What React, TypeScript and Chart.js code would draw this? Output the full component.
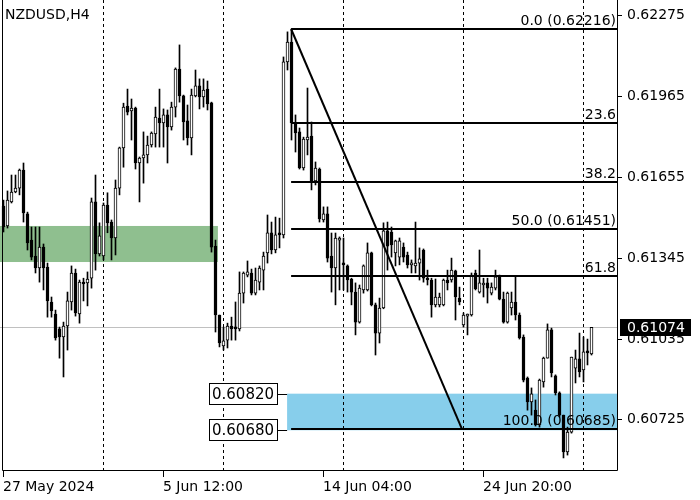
import React, { useEffect, useRef } from 'react';
import { Chart, registerables } from 'chart.js';
Chart.register(...registerables);

const opens = [0.61538,0.61462,0.61554,0.61592,0.61607,0.61676,0.61508,0.61408,0.61347,0.61301,0.61381,0.61305,0.61171,0.61125,0.61068,0.61037,0.61079,0.61171,0.61282,0.61125,0.61247,0.61244,0.61262,0.61554,0.61355,0.61347,0.61542,0.61477,0.61416,0.61607,0.61761,0.61921,0.61902,0.61913,0.61703,0.61722,0.61734,0.61772,0.61814,0.61875,0.61856,0.61887,0.61841,0.61917,0.62063,0.61960,0.61864,0.61799,0.61960,0.61998,0.61956,0.61986,0.61933,0.61385,0.61121,0.61003,0.61025,0.61079,0.61071,0.61068,0.61205,0.61274,0.61282,0.61205,0.61247,0.61293,0.61359,0.61436,0.61370,0.61436,0.61428,0.62090,0.62166,0.61856,0.61822,0.61684,0.61791,0.61806,0.61634,0.61680,0.61485,0.61508,0.61347,0.61301,0.61408,0.61320,0.61309,0.61259,0.61209,0.61094,0.61217,0.61217,0.61359,0.61160,0.61052,0.61148,0.61443,0.61439,0.61359,0.61343,0.61381,0.61351,0.61313,0.61309,0.61320,0.61370,0.61262,0.61255,0.61160,0.61160,0.61160,0.61255,0.61255,0.61290,0.61186,0.61083,0.61117,0.61121,0.61282,0.61209,0.61236,0.61244,0.61205,0.61224,0.61267,0.61182,0.61094,0.61148,0.61171,0.61121,0.61037,0.60880,0.60788,0.60757,0.60700,0.60865,0.60956,0.61064,0.60888,0.60823,0.60738,0.60597,0.60673,0.60918,0.60953,0.60911,0.60983,0.60972];
const highs = [0.61561,0.61596,0.61657,0.61657,0.61680,0.61703,0.61515,0.61458,0.61458,0.61458,0.61393,0.61320,0.61190,0.61140,0.61075,0.61094,0.61209,0.61309,0.61297,0.61255,0.61262,0.61286,0.61569,0.61657,0.61474,0.61550,0.61589,0.61485,0.61638,0.61764,0.61932,0.61986,0.61948,0.61917,0.61726,0.61822,0.61806,0.61822,0.61917,0.61986,0.61910,0.61906,0.61936,0.62067,0.62155,0.61963,0.61925,0.61986,0.62059,0.62025,0.62025,0.62017,0.61936,0.61408,0.61121,0.61075,0.61090,0.61113,0.61171,0.61286,0.61286,0.61328,0.61297,0.61301,0.61309,0.61362,0.61504,0.61477,0.61496,0.61492,0.62109,0.62205,0.62216,0.61887,0.61837,0.61802,0.61990,0.61860,0.61707,0.61684,0.61535,0.61535,0.61435,0.61435,0.61420,0.61416,0.61313,0.61262,0.61244,0.61236,0.61313,0.61397,0.61362,0.61167,0.61186,0.61474,0.61477,0.61458,0.61408,0.61416,0.61397,0.61362,0.61332,0.61477,0.61378,0.61374,0.61293,0.61262,0.61259,0.61205,0.61259,0.61293,0.61339,0.61293,0.61228,0.61129,0.61125,0.61282,0.61293,0.61370,0.61262,0.61262,0.61244,0.61293,0.61274,0.61209,0.61209,0.61209,0.61270,0.61129,0.61045,0.60884,0.60842,0.60796,0.60876,0.60960,0.61087,0.61071,0.60892,0.60827,0.60738,0.60692,0.60960,0.60987,0.61052,0.61037,0.61029,0.61074];
const lows = [0.61439,0.61454,0.61550,0.61589,0.61581,0.61477,0.61370,0.61332,0.61282,0.61247,0.61217,0.61113,0.61113,0.61025,0.60956,0.60884,0.60987,0.61140,0.61117,0.61090,0.61175,0.61156,0.61224,0.61293,0.61347,0.61332,0.61436,0.61332,0.61351,0.61581,0.61687,0.61887,0.61791,0.61680,0.61554,0.61626,0.61703,0.61764,0.61764,0.61764,0.61764,0.61703,0.61829,0.61879,0.61936,0.61791,0.61772,0.61734,0.61956,0.61910,0.61917,0.61906,0.61362,0.61056,0.60999,0.60987,0.60995,0.61025,0.61025,0.61060,0.61167,0.61267,0.61198,0.61198,0.61217,0.61217,0.61320,0.61355,0.61359,0.61378,0.61416,0.62059,0.61791,0.61745,0.61680,0.61676,0.61734,0.61600,0.61619,0.61477,0.61477,0.61324,0.61209,0.61160,0.61217,0.61217,0.61209,0.61160,0.61045,0.61090,0.61205,0.61213,0.61156,0.60968,0.61014,0.61145,0.61293,0.61343,0.61309,0.61313,0.61324,0.61301,0.61282,0.61282,0.61255,0.61247,0.61236,0.61113,0.61152,0.61152,0.61156,0.61217,0.61247,0.61102,0.61160,0.61075,0.61045,0.61117,0.61217,0.61205,0.61190,0.61167,0.61198,0.61217,0.61179,0.61090,0.61090,0.61121,0.61102,0.61029,0.60865,0.60757,0.60738,0.60696,0.60692,0.60845,0.60956,0.60884,0.60815,0.60731,0.60574,0.60585,0.60669,0.60861,0.60884,0.60865,0.60930,0.60968];
const closes = [0.61458,0.61561,0.61592,0.61607,0.61676,0.61512,0.61397,0.61343,0.61301,0.61381,0.61301,0.61175,0.61137,0.61033,0.61037,0.61079,0.61175,0.61282,0.61129,0.61247,0.61240,0.61259,0.61554,0.61355,0.61424,0.61542,0.61474,0.61416,0.61607,0.61761,0.61917,0.61898,0.61913,0.61703,0.61722,0.61734,0.61772,0.61818,0.61879,0.61856,0.61887,0.61841,0.61917,0.62063,0.61960,0.61860,0.61799,0.61963,0.61998,0.61956,0.61982,0.61929,0.61381,0.61121,0.61014,0.61022,0.61079,0.61068,0.61068,0.61205,0.61282,0.61286,0.61205,0.61255,0.61301,0.61347,0.61436,0.61370,0.61428,0.61428,0.62090,0.62166,0.61856,0.61818,0.61684,0.61795,0.61802,0.61634,0.61684,0.61489,0.61508,0.61339,0.61301,0.61416,0.61416,0.61313,0.61255,0.61209,0.61094,0.61224,0.61309,0.61359,0.61160,0.61052,0.61148,0.61443,0.61385,0.61389,0.61405,0.61405,0.61343,0.61313,0.61320,0.61320,0.61336,0.61262,0.61255,0.61160,0.61190,0.61190,0.61255,0.61244,0.61293,0.61190,0.61171,0.61121,0.61121,0.61274,0.61221,0.61244,0.61240,0.61224,0.61228,0.61267,0.61182,0.61094,0.61205,0.61171,0.61121,0.61033,0.60872,0.60788,0.60819,0.60700,0.60872,0.60956,0.61064,0.60899,0.60823,0.60738,0.60597,0.60673,0.60960,0.60953,0.60903,0.60980,0.60976,0.61074];

const symbolTitle = 'NZDUSD,H4';
const priceTicks = [0.62275, 0.61965, 0.61655, 0.61345, 0.61035, 0.60725];
const currentPrice = 0.61074;
const dateLabels = ['27 May 2024', '5 Jun 12:00', '14 Jun 04:00', '24 Jun 20:00'];
const dateLabelBars = [0, 40, 80, 120];
const gridBars = [25, 55, 85, 115, 145];
const fibHigh = 0.62216;
const fibLow = 0.60685;
const fibRatios = [0, 23.6, 38.2, 50, 61.8, 100];
const fibTexts = ['0.0 (0.62216)', '23.6', '38.2', '50.0 (0.61451)', '61.8', '100.0 (0.60685)'];
const fibStartBar = 71.9;
const trendEndBar = 114.6;
const greenZone = { fromBar: -0.875, toBar: 53.6, top: 0.61462, bottom: 0.61324 };
const blueZone = { fromBar: 70.9, top: 0.6082, bottom: 0.6068 };
const blueZoneLabels = ['0.60820', '0.60680'];

const FONT = '"DejaVu Sans", Verdana, sans-serif';

export default function App() {
  const ref = useRef<HTMLCanvasElement | null>(null);
  useEffect(() => {
    document.body.style.margin = '0';
    const canvas = ref.current;
    if (!canvas) return;
    const idx = opens.map((_, i) => i);
    const bodyColors = idx.map((i) => (closes[i] >= opens[i] ? '#ffffff' : '#000000'));

    const overlay = {
      id: 'mtOverlay',
      beforeDraw(chart: any) {
        const ctx = chart.ctx;
        ctx.save();
        ctx.fillStyle = '#ffffff';
        ctx.fillRect(0, 0, chart.width, chart.height);
        ctx.restore();
      },
      beforeDatasetsDraw(chart: any) {
        const ctx = chart.ctx;
        const xs = chart.scales.x;
        const ys = chart.scales.y;
        const area = chart.chartArea;
        ctx.save();
        // green zone
        ctx.fillStyle = '#8fbf8f';
        const gx0 = Math.max(area.left, xs.getPixelForValue(greenZone.fromBar));
        const gx1 = xs.getPixelForValue(greenZone.toBar);
        const gy0 = ys.getPixelForValue(greenZone.top);
        const gy1 = ys.getPixelForValue(greenZone.bottom);
        ctx.fillRect(gx0, gy0, gx1 - gx0, gy1 - gy0);
        // blue zone
        ctx.fillStyle = '#87ceeb';
        const bx0 = xs.getPixelForValue(blueZone.fromBar);
        const by0 = ys.getPixelForValue(blueZone.top);
        const by1 = ys.getPixelForValue(blueZone.bottom);
        ctx.fillRect(bx0, by0, area.right - bx0, by1 - by0);
        // grid
        ctx.strokeStyle = '#000000';
        ctx.lineWidth = 1;
        ctx.setLineDash([3, 3]);
        gridBars.forEach((b) => {
          const x = Math.floor(xs.getPixelForValue(b)) + 0.5;
          ctx.beginPath();
          ctx.moveTo(x, area.top);
          ctx.lineTo(x, area.bottom);
          ctx.stroke();
        });
        ctx.setLineDash([]);
        // current price line
        ctx.strokeStyle = '#c0c0c0';
        const cy = Math.round(ys.getPixelForValue(currentPrice)) + 0.5;
        ctx.beginPath();
        ctx.moveTo(area.left, cy);
        ctx.lineTo(area.right, cy);
        ctx.stroke();
        ctx.restore();
      },
      afterDatasetsDraw(chart: any) {
        const ctx = chart.ctx;
        const xs = chart.scales.x;
        const ys = chart.scales.y;
        const area = chart.chartArea;
        ctx.save();
        // fib lines
        const fx = xs.getPixelForValue(fibStartBar);
        ctx.strokeStyle = '#000000';
        ctx.lineWidth = 2;
        ctx.font = '14px ' + FONT;
        ctx.fillStyle = '#000000';
        ctx.textAlign = 'right';
        ctx.textBaseline = 'alphabetic';
        fibRatios.forEach((r, i) => {
          const p = fibHigh - (fibHigh - fibLow) * (r / 100);
          const y = Math.round(ys.getPixelForValue(p));
          ctx.beginPath();
          ctx.moveTo(fx, y);
          ctx.lineTo(area.right, y);
          ctx.stroke();
          ctx.fillText(fibTexts[i], area.right - 2, y - 4);
        });
        // trend line
        ctx.beginPath();
        ctx.moveTo(fx, ys.getPixelForValue(fibHigh));
        ctx.lineTo(xs.getPixelForValue(trendEndBar), ys.getPixelForValue(fibLow));
        ctx.stroke();

        // blue zone labels
        const bx0 = xs.getPixelForValue(blueZone.fromBar);
        ctx.lineWidth = 1;
        ctx.font = '15px ' + FONT;
        ctx.textAlign = 'left';
        ctx.textBaseline = 'middle';
        [blueZone.top, blueZone.bottom].forEach((p, i) => {
          const y = Math.round(ys.getPixelForValue(p));
          const boxR = Math.round(bx0) - 10;
          const boxL = boxR - 68;
          ctx.fillStyle = '#ffffff';
          ctx.fillRect(boxL, y - 11, 68, 22);
          ctx.strokeStyle = '#000000';
          ctx.strokeRect(boxL + 0.5, y - 10.5, 68, 21);
          ctx.beginPath();
          ctx.moveTo(boxR, y + 0.5);
          ctx.lineTo(bx0, y + 0.5);
          ctx.stroke();
          ctx.fillStyle = '#000000';
          ctx.fillText(blueZoneLabels[i], boxL + 3, y + 1);
        });

        // frame
        ctx.strokeStyle = '#000000';
        ctx.lineWidth = 1;
        ctx.beginPath();
        ctx.moveTo(2.5, 0);
        ctx.lineTo(2.5, area.bottom - 0.5);
        ctx.lineTo(area.right - 0.5, area.bottom - 0.5);
        ctx.lineTo(area.right - 0.5, 0);
        ctx.stroke();

        // right axis
        ctx.font = '14px ' + FONT;
        ctx.textAlign = 'left';
        ctx.textBaseline = 'middle';
        ctx.fillStyle = '#000000';
        priceTicks.forEach((p) => {
          const y = Math.round(ys.getPixelForValue(p)) + 1.5;
          ctx.beginPath();
          ctx.moveTo(area.right, y);
          ctx.lineTo(area.right + 4, y);
          ctx.stroke();
          ctx.fillText(p.toFixed(5), area.right + 9, y);
        });
        // current price box
        const cy = Math.round(ys.getPixelForValue(currentPrice));
        ctx.fillStyle = '#000000';
        ctx.fillRect(area.right + 2, cy - 8, 71, 17);
        ctx.fillStyle = '#ffffff';
        ctx.fillText(currentPrice.toFixed(5), area.right + 9, cy + 1);

        // bottom axis
        ctx.fillStyle = '#000000';
        ctx.textBaseline = 'middle';
        dateLabelBars.forEach((b, i) => {
          const x = Math.floor(xs.getPixelForValue(b)) + 0.5;
          ctx.beginPath();
          ctx.moveTo(x, area.bottom);
          ctx.lineTo(x, area.bottom + 6);
          ctx.stroke();
          ctx.fillText(dateLabels[i], x - 0.5, area.bottom + 16);
        });

        // title
        ctx.font = '14px ' + FONT;
        ctx.fillText(symbolTitle, 5, 15);
        ctx.restore();
      },
    };

    const chart = new Chart(canvas, {
      type: 'bar',
      data: {
        datasets: [
          {
            label: 'body',
            data: idx.map((i) => ({ x: i, y: [opens[i], closes[i]] })) as any,
            backgroundColor: bodyColors,
            borderColor: '#000000',
            borderWidth: 1,
            borderSkipped: false,
            barThickness: 3,
            minBarLength: 2,
            grouped: false,
            order: 0,
          } as any,
          {
            label: 'wick',
            data: idx.map((i) => ({ x: i, y: [lows[i], highs[i]] })) as any,
            backgroundColor: '#000000',
            borderWidth: 0,
            barThickness: 1,
            grouped: false,
            order: 1,
          } as any,
        ],
      },
      options: {
        responsive: false,
        animation: false,
        devicePixelRatio: 1,
        events: [],
        layout: { padding: { left: 0, top: 0, right: 82, bottom: 29 } },
        plugins: { legend: { display: false }, tooltip: { enabled: false } },
        scales: {
          x: { type: 'linear', min: -0.875, max: 153.625, display: false, offset: false, bounds: 'data' } as any,
          y: { type: 'linear', min: 0.60524, max: 0.62327, display: false, bounds: 'data' } as any,
        },
      },
      plugins: [overlay],
    });
    return () => chart.destroy();
  }, []);
  return <canvas ref={ref} width={700} height={500} style={{ display: 'block', width: 700, height: 500 }} />;
}
